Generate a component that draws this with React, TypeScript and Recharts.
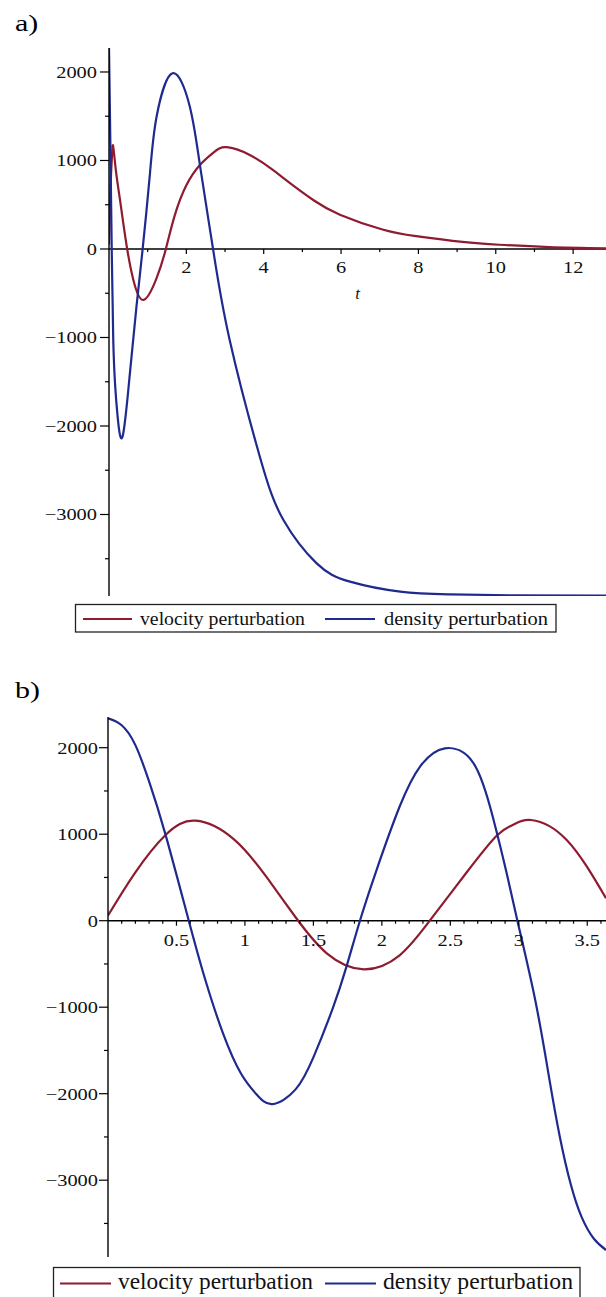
import React from 'react'
import { Line, LineChart, ReferenceLine, XAxis, YAxis } from 'recharts'

const RED = '#8e1b2f'
const BLUE = '#1f2a8e'
const INK = '#111'
const SERIF = '"Liberation Serif", "Times New Roman", Times, serif'

const SERIES_NAMES = ['velocity perturbation', 'density perturbation']
const SERIES_COLORS = [RED, BLUE]

// a) the long run, out to t ~ 13
const tVelA = [0, 0.04, 0.08, 0.11, 0.18, 0.28, 0.37, 0.47, 0.63, 0.89, 1.23, 1.47, 1.7, 2.0, 2.35, 2.7, 3.04, 3.64, 4.2, 4.68, 5.3, 5.97, 7.07, 7.94, 9.14, 10.09, 11.38, 12.85]
const velA = [50, 700, 1080, 1156, 880, 570, 290, 0, -350, -576, -330, 0, 380, 720, 950, 1090, 1150, 1062, 905, 745, 548, 388, 220, 145, 80, 48, 22, 8]
const tDenA = [0, 0.035, 0.07, 0.11, 0.16, 0.22, 0.35, 0.54, 0.71, 0.87, 1.06, 1.23, 1.64, 2.09, 2.35, 2.69, 3.12, 3.9, 4.51, 5.37, 6.23, 7.53, 8.82, 10.5, 12.85]
const denA = [2270, 1200, 0, -1028, -1550, -1880, -2121, -1405, -652, 0, 858, 1495, 1985, 1608, 950, 0, -1028, -2347, -3062, -3552, -3759, -3872, -3902, -3914, -3917]

// b) the first swings, t up to ~3.6
const tVelB = [0, 0.2, 0.42, 0.64, 0.92, 1.16, 1.37, 1.6, 1.87, 2.13, 2.35, 2.62, 2.84, 2.96, 3.09, 3.35, 3.637]
const velB = [60, 560, 991, 1156, 940, 500, 40, -380, -562, -400, 0, 560, 985, 1110, 1164, 933, 259]
const tDenB = [0, 0.1, 0.2, 0.3, 0.42, 0.59, 0.71, 0.84, 0.97, 1.08, 1.2, 1.37, 1.5, 1.64, 1.74, 1.84, 1.96, 2.13, 2.28, 2.46, 2.67, 2.81, 2.91, 2.99, 3.12, 3.22, 3.3, 3.38, 3.46, 3.55, 3.637]
const denB = [2340, 2260, 2030, 1610, 995, 0, -680, -1302, -1764, -2000, -2120, -1950, -1580, -1020, -540, 0, 580, 1320, 1785, 1993, 1820, 1202, 560, 0, -917, -1800, -2500, -3050, -3430, -3680, -3807]

const yTicks = [-3500, -3000, -2500, -2000, -1500, -1000, -500, 0, 500, 1000, 1500, 2000]
const yLabelled = [-3000, -2000, -1000, 0, 1000, 2000]
const xTicksA = [1, 2, 3, 4, 5, 6, 7, 8, 9, 10, 11, 12]
const xLabelledA = [2, 4, 6, 8, 10, 12]
const xTicksB = [0.1, 0.2, 0.3, 0.4, 0.5, 0.6, 0.7, 0.8, 0.9, 1, 1.1, 1.2, 1.3, 1.4, 1.5, 1.6, 1.7, 1.8, 1.9, 2, 2.1, 2.2, 2.3, 2.4, 2.5, 2.6, 2.7, 2.8, 2.9, 3, 3.1, 3.2, 3.3, 3.4, 3.5, 3.6]
const xLabelledB = [0.5, 1, 1.5, 2, 2.5, 3, 3.5]

const pts = (ts: number[], vs: number[]) => ts.map((t, i) => ({ t, v: vs[i] }))
const fmt = (v: number) => (v < 0 ? `\u2212${Math.abs(v)}` : String(v))

// Maple's text comes out wide, so the glyphs get stretched sideways
const STRETCH = 1.2

function XTick(props: any) {
  const { x, payload, zeroY, labelled, dy } = props
  const major = labelled.includes(payload.value)
  return (
    <g>
      <line x1={x} x2={x} y1={zeroY} y2={zeroY + (major ? 5 : 3)} stroke="#000" strokeWidth={1.2} />
      {major && (
        <text
          transform={`translate(${x},${zeroY + dy}) scale(${STRETCH},1)`}
          textAnchor="middle"
          fontFamily={SERIF}
          fontSize={17}
          fill={INK}
        >
          {fmt(payload.value)}
        </text>
      )}
    </g>
  )
}

function YTick(props: any) {
  const { y, payload, axisX, gap } = props
  const major = yLabelled.includes(payload.value)
  return (
    <g>
      <line x1={axisX - (major ? 9 : 4)} x2={axisX} y1={y} y2={y} stroke="#000" strokeWidth={1.2} />
      {major && (
        <text
          transform={`translate(${axisX - gap},${y + 6}) scale(${STRETCH},1)`}
          textAnchor="end"
          fontFamily={SERIF}
          fontSize={17}
          fill={INK}
        >
          {fmt(payload.value)}
        </text>
      )}
    </g>
  )
}

function TLabel(props: any) {
  const { viewBox } = props
  if (!viewBox) return null
  return (
    <text
      x={viewBox.x + viewBox.width / 2}
      y={viewBox.y + 50}
      textAnchor="middle"
      fontFamily={SERIF}
      fontSize={17}
      fontStyle="italic"
      fill={INK}
    >
      t
    </text>
  )
}

type Frame = {
  top: number
  plotTop: number
  plotHeight: number
  axisX: number
  labelGap: number
  xMax: number
  yMin: number
  yMax: number
  tickDy: number
}

function Panel({
  frame,
  series,
  xTicks,
  xLabelled,
  showT,
}: {
  frame: Frame
  series: { t: number; v: number }[][]
  xTicks: number[]
  xLabelled: number[]
  showT?: boolean
}) {
  const { plotTop, plotHeight, axisX, yMin, yMax } = frame
  const height = plotTop + plotHeight + 20
  // where y = 0 falls; the horizontal axis is drawn through it
  const zeroY = plotTop + (plotHeight * yMax) / (yMax - yMin)

  return (
    <div style={{ position: 'absolute', left: 0, top: frame.top, width: 606, height }}>
      <LineChart width={606} height={height} margin={{ top: plotTop, right: 0, bottom: 0, left: 0 }}>
        <XAxis
          type="number"
          dataKey="t"
          domain={[0, frame.xMax]}
          ticks={xTicks}
          interval={0}
          allowDataOverflow
          axisLine={false}
          tickLine={false}
          height={20}
          tick={(p: any) => <XTick {...p} zeroY={zeroY} labelled={xLabelled} dy={frame.tickDy} />}
        />
        <YAxis
          type="number"
          domain={[yMin, yMax]}
          ticks={yTicks}
          interval={0}
          allowDataOverflow
          width={axisX}
          axisLine={{ stroke: '#000', strokeWidth: 1.4 }}
          tickLine={false}
          tick={(p: any) => <YTick {...p} axisX={axisX} gap={frame.labelGap} />}
        />
        <ReferenceLine
          y={0}
          stroke="#000"
          strokeWidth={1.4}
          label={showT ? <TLabel /> : undefined}
          ifOverflow="visible"
        />
        {series.map((d, i) => (
          <Line
            key={SERIES_NAMES[i]}
            data={d}
            dataKey="v"
            type="natural"
            stroke={SERIES_COLORS[i]}
            strokeWidth={2.2}
            dot={false}
            activeDot={false}
            isAnimationActive={false}
          />
        ))}
      </LineChart>
    </div>
  )
}

type LegendGeom = {
  box: [number, number, number, number]
  lineY: number
  baseline: number
  fontSize: number
  lines: [number, number][]
  textX: number[]
  textLen: number[]
}

function Key({ g }: { g: LegendGeom }) {
  const [x0, y0, x1, y1] = g.box
  return (
    <svg width={606} height={1297} style={{ position: 'absolute', left: 0, top: 0, pointerEvents: 'none' }}>
      <rect x={x0} y={y0} width={x1 - x0} height={y1 - y0} fill="#fff" stroke="#222" strokeWidth={1.3} />
      {SERIES_NAMES.map((name, i) => (
        <g key={name}>
          <line x1={g.lines[i][0]} x2={g.lines[i][1]} y1={g.lineY} y2={g.lineY} stroke={SERIES_COLORS[i]} strokeWidth={2} />
          <text
            x={g.textX[i]}
            y={g.baseline}
            fontFamily={SERIF}
            fontSize={g.fontSize}
            fill={INK}
            textLength={g.textLen[i]}
            lengthAdjust="spacingAndGlyphs"
          >
            {name}
          </text>
        </g>
      ))}
    </svg>
  )
}

function PanelTag({ text, baseline }: { text: string; baseline: number }) {
  return (
    <svg width={60} height={baseline + 10} style={{ position: 'absolute', left: 0, top: 0 }}>
      <text transform={`translate(15,${baseline}) scale(1.25,1)`} fontFamily={SERIF} fontSize={24} fill="#000">
        {text}
      </text>
    </svg>
  )
}

const frameA: Frame = { top: 0, plotTop: 48, plotHeight: 548, axisX: 109, labelGap: 12, xMax: 12.85, yMin: -3921, yMax: 2271, tickDy: 24 }
const frameB: Frame = { top: 660, plotTop: 57, plotHeight: 540, axisX: 108, labelGap: 10, xMax: 3.637, yMin: -3888, yMax: 2355, tickDy: 25 }

const legendA: LegendGeom = {
  box: [75.5, 604.5, 556, 632],
  lineY: 619,
  baseline: 625,
  fontSize: 18.5,
  lines: [[83, 132], [325, 375]],
  textX: [140, 384],
  textLen: [165, 164],
}
const legendB: LegendGeom = {
  box: [53.5, 1267.5, 580, 1305],
  lineY: 1283.5,
  baseline: 1289,
  fontSize: 23,
  lines: [[60, 111], [325, 376]],
  textX: [118, 383],
  textLen: [195, 190],
}

export default function App() {
  return (
    <div style={{ position: 'absolute', left: 0, top: 0, width: 606, height: 1297, overflow: 'hidden', background: '#fff' }}>
      <PanelTag text="a)" baseline={31} />
      <Panel frame={frameA} series={[pts(tVelA, velA), pts(tDenA, denA)]} xTicks={xTicksA} xLabelled={xLabelledA} showT />
      <Key g={legendA} />
      <PanelTag text="b)" baseline={698} />
      <Panel frame={frameB} series={[pts(tVelB, velB), pts(tDenB, denB)]} xTicks={xTicksB} xLabelled={xLabelledB} />
      <Key g={legendB} />
    </div>
  )
}
